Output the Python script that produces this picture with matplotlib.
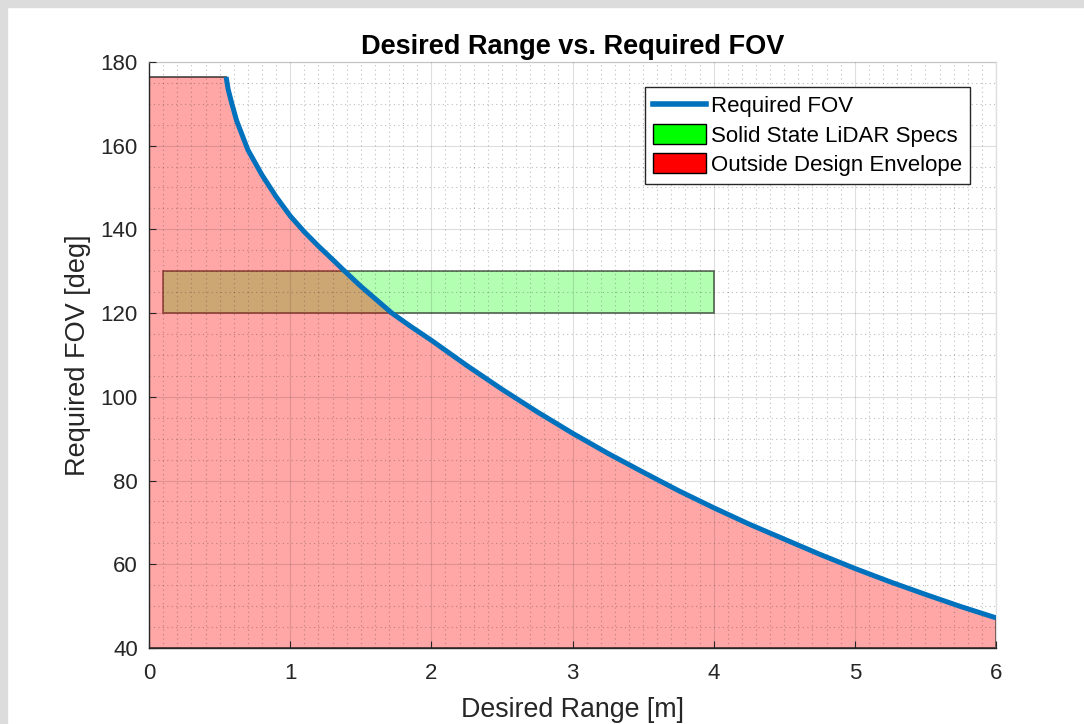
import numpy as np
import matplotlib
matplotlib.use('Agg')
import matplotlib.pyplot as plt
from matplotlib.patches import Rectangle, Polygon, Patch
from matplotlib.lines import Line2D

plt.rcParams['font.family'] = ['Liberation Sans', 'DejaVu Sans']

# curve
range_m = [0.546, 0.56, 0.586, 0.62, 0.7, 0.8, 0.9, 1.0, 1.1, 1.2, 1.3, 1.377, 1.5,
           1.72, 1.85, 2.0, 2.25, 2.5, 2.75, 3.0, 3.25, 3.5, 3.75, 4.0, 4.25, 4.5,
           4.75, 5.0, 5.25, 5.5, 5.75, 6.0]
fov_deg = [176.4, 173.5, 170.1, 166.0, 159.0, 153.0, 147.8, 143.2, 139.4, 136.0, 132.8,
           130.3, 126.4, 120.0, 116.9, 113.5, 107.5, 101.8, 96.4, 91.3, 86.5, 82.0,
           77.6, 73.5, 69.6, 66.0, 62.4, 59.0, 55.8, 52.8, 49.9, 47.2]

# lidar spec box
spec_range = [0.1, 4.0]
spec_fov = [120, 130]

x_ticks = [0, 1, 2, 3, 4, 5, 6]
y_ticks = [40, 60, 80, 100, 120, 140, 160, 180]

fig = plt.figure(figsize=(10.84, 7.24), dpi=100)
ax = fig.add_axes([0.1375, 0.105, 0.7813, 0.8095])

# gray frame at top and left
fig.add_artist(Rectangle((0, 1 - 7 / 724), 1, 7 / 724, transform=fig.transFigure,
                         color='#dcdcdc', zorder=0))
fig.add_artist(Rectangle((0, 0), 7 / 1084, 1, transform=fig.transFigure,
                         color='#dcdcdc', zorder=0))

# green spec box (drawn under the red region)
box = Rectangle((spec_range[0], spec_fov[0]), spec_range[1] - spec_range[0],
                spec_fov[1] - spec_fov[0], facecolor=(0, 1, 0, 0.3),
                edgecolor=(0, 0, 0, 0.6), linewidth=1.2, zorder=1)
ax.add_patch(box)

# red region under the curve
pts = [(0, 40), (0, fov_deg[0])] + list(zip(range_m, fov_deg)) + [(range_m[-1], 40)]
red = Polygon(pts, closed=True, facecolor=(1, 0, 0, 0.35),
              edgecolor=(0, 0, 0, 0.7), linewidth=1.2, zorder=1.5)
ax.add_patch(red)

ax.plot(range_m, fov_deg, color='#0072BD', linewidth=3.6, zorder=3,
        solid_capstyle='butt', solid_joinstyle='round')

ax.set_xlim(0, 6)
ax.set_ylim(40, 180)
ax.set_xticks(x_ticks)
ax.set_yticks(y_ticks)
ax.set_xticks(np.arange(0, 6.01, 0.1), minor=True)
ax.set_yticks(np.arange(40, 180.1, 5), minor=True)

ax.set_axisbelow(False)
ax.grid(True, which='major', color='#262626', alpha=0.15, linewidth=0.8, zorder=2)
ax.grid(True, which='minor', color='#262626', alpha=0.3, linewidth=0.8,
        linestyle=(0, (1, 3)), zorder=2)

ax.tick_params(which='major', direction='in', length=5, width=0.8, color='#262626',
               labelsize=16, labelcolor='#262626')
ax.tick_params(axis='x', which='major', pad=11)
ax.tick_params(axis='y', which='major', pad=8)
ax.tick_params(which='minor', length=0)
for s in ['left', 'bottom']:
    ax.spines[s].set_color('#262626')
    ax.spines[s].set_linewidth(1.0)
for s in ['top', 'right']:
    ax.spines[s].set_color('#e0e0e0')
    ax.spines[s].set_linewidth(1.0)

ax.set_title('Desired Range vs. Required FOV', fontsize=19.5, fontweight='bold', pad=6)
ax.set_xlabel('Desired Range [m]', fontsize=19.3, color='#262626')
ax.xaxis.set_label_coords(0.5, -0.083)
ax.set_ylabel('Required FOV [deg]', fontsize=19.5, color='#262626', labelpad=7)

handles = [Line2D([0], [0], color='#0072BD', linewidth=4),
           Patch(facecolor='#00ff00', edgecolor='black'),
           Patch(facecolor='#ff0000', edgecolor='black')]
labels = ['Required FOV', 'Solid State LiDAR Specs', 'Outside Design Envelope']
leg = ax.legend(handles, labels, loc='upper right', bbox_to_anchor=(0.969, 0.957),
                borderaxespad=0, fontsize=16, fancybox=False, framealpha=1,
                edgecolor='#262626', handlelength=2.4, handleheight=1.0,
                handletextpad=0.2, labelspacing=0.3, borderpad=0.35)
leg.get_frame().set_linewidth(1.0)
leg.set_zorder(5)

fig.savefig('out.png', dpi=100)
